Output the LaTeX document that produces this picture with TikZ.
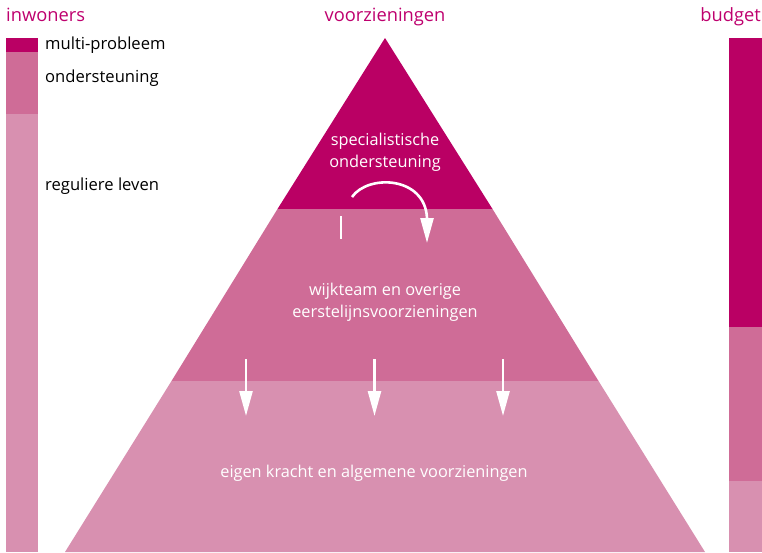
\documentclass[tikz,border=0pt]{standalone}
\usepackage{fontspec}
\setmainfont{Open Sans}
\usetikzlibrary{arrows.meta}
\definecolor{cdark}{RGB}{186,0,100}
\definecolor{cmid}{RGB}{207,108,151}
\definecolor{clight}{RGB}{216,144,176}
\definecolor{ctitle}{RGB}{190,0,110}
\tikzset{
  title/.style={text=ctitle,font=\fontsize{18.3}{20}\selectfont,inner sep=0pt},
  lbl/.style={text=black,font=\fontsize{16.6}{17}\selectfont,inner sep=0pt,anchor=west},
  wlbl/.style={text=white,font=\fontsize{16.3}{22}\selectfont,align=center,inner sep=0pt},
  flow/.style={draw=white,line width=2.6pt,-{Triangle[length=25pt,width=13pt]}},
}
\begin{document}
\begin{tikzpicture}[x=1pt,y=-1pt]
\useasboundingbox (0,0) rectangle (762,552);
% left bar
\fill[cdark] (6,38) rectangle (38,52);
\fill[cmid] (6,52) rectangle (38,114);
\fill[clight] (6,114) rectangle (38,552);
% right bar
\fill[cdark] (729,38) rectangle (762,327);
\fill[cmid] (729,327) rectangle (762,481);
\fill[clight] (729,481) rectangle (762,552);
% pyramid
\fill[cdark] (385,38) -- (492.5,209) -- (277.5,209) -- cycle;
\fill[cmid] (277.5,209) -- (492.5,209) -- (598.5,381) -- (171.5,381) -- cycle;
\fill[clight] (171.5,381) -- (598.5,381) -- (705,552) -- (65,552) -- cycle;
% titles
\node[title,anchor=base west] (tin) at (6,21) {inwoners};
\node[title,anchor=base] (tvz) at (385,21) {voorzieningen};
\node[title,anchor=base east] (tbu) at (761,21) {budget};
% left labels
\node[lbl] (l1) at (45,45) {multi-probleem};
\node[lbl] (l2) at (45,78) {ondersteuning};
\node[lbl] (l3) at (45,186) {reguliere leven};
% tier labels
\node[wlbl] (t1) at (385,152) {specialistische\\ondersteuning};
\node[wlbl] (t2) at (385,302) {wijkteam en overige\\eerstelijnsvoorzieningen};
\node[wlbl] (t3) at (374,473) {eigen kracht en algemene voorzieningen};
% arrows
\coordinate (cs) at (352,197);
\coordinate (ce) at (427,243);
\draw[flow] (cs) .. controls (368,174) and (425,176) .. (427,218) -- (ce);
\coordinate (ls) at (341,216);
\coordinate (le) at (341,239);
\draw[white,line width=2.6pt] (ls) -- (le);
\foreach \i/\x in {a/246,b/374.5,c/503}{
  \coordinate (s\i) at (\x,359);
  \coordinate (e\i) at (\x,416);
  \draw[flow] (s\i) -- (e\i);
}
\end{tikzpicture}
\end{document}
